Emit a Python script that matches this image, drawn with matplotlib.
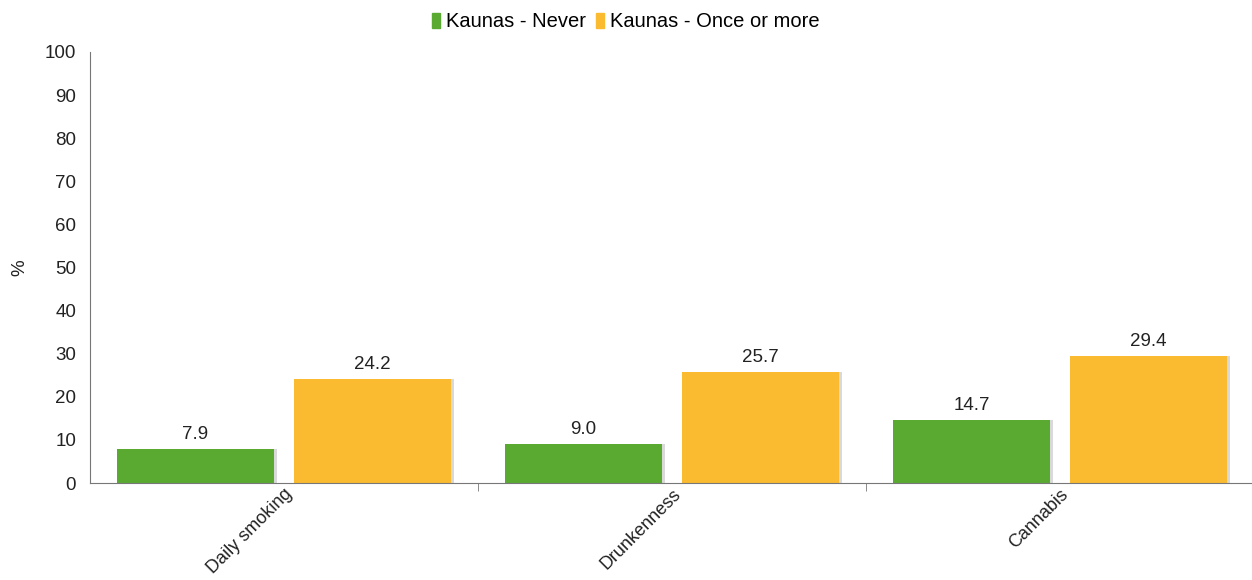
import numpy as np
import matplotlib.pyplot as plt
from matplotlib.patches import Patch

plt.rcParams['font.family'] = ['Liberation Sans', 'DejaVu Sans']

categories = ['Daily smoking', 'Drunkenness', 'Cannabis']
never = [7.9, 9.0, 14.7]
once_or_more = [24.2, 25.7, 29.4]
series_names = ['Kaunas - Never', 'Kaunas - Once or more']
colors = ['#5aaa32', '#fbbb31']

fig = plt.figure(figsize=(12.52, 5.8), dpi=100)
ax = fig.add_axes([90 / 1252, 1 - 483 / 580, 1164 / 1252, 431 / 580])

x = np.arange(len(categories))
w = 0.405
off = 0.228
fs = 13.5

for vals, dx, c in [(never, -off, colors[0]), (once_or_more, off, colors[1])]:
    # faint shadow on the right side of each bar
    ax.bar(x + dx + 0.008, vals, w, color='#d9d9d9', zorder=1)
    ax.bar(x + dx, vals, w, color=c, zorder=2)
    for xi, v in zip(x + dx, vals):
        ax.text(xi, v + 1.4, f'{v:.1f}', ha='center', va='bottom',
                fontsize=fs, color='#222222')

ax.set_xlim(-0.5, 2.5)
ax.set_ylim(0, 100)
ax.set_yticks(np.arange(0, 101, 10))
ax.tick_params(axis='y', length=0, labelsize=fs, pad=10, colors='#222222')
ax.set_xticks(x)
ax.set_xticklabels(categories, rotation=45, ha='right', rotation_mode='anchor',
                   fontsize=13, color='#222222')
ax.tick_params(axis='x', length=0, pad=2)
ax.set_xticks([0.5, 1.5], minor=True)
ax.tick_params(axis='x', which='minor', length=6, color='#777777')

for s in ['top', 'right']:
    ax.spines[s].set_visible(False)
for s in ['left', 'bottom']:
    ax.spines[s].set_color('#777777')
ax.set_ylabel('%', fontsize=fs, color='#222222')
ax.yaxis.set_label_coords(-62 / 1164, 0.5)

handles = [Patch(color=c, label=n) for c, n in zip(colors, series_names)]
fig.legend(handles=handles, loc='upper center', bbox_to_anchor=(0.5, 1.01),
           ncol=2, frameon=False, fontsize=14.5, handlelength=0.4,
           handleheight=0.75, handletextpad=0.3, columnspacing=0.5)

fig.savefig('out.png', dpi=100)
